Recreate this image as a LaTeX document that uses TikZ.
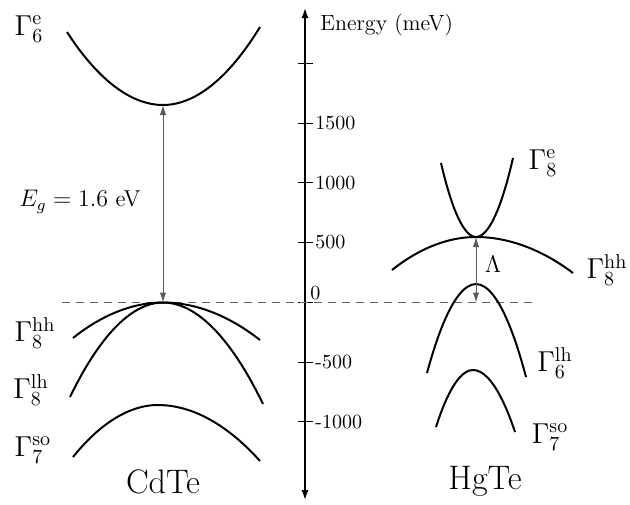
\documentclass[tikz,border=0pt]{standalone}
\usepackage{amsmath}
\usepackage{tikz}
\usetikzlibrary{arrows.meta}

\begin{document}
\begin{tikzpicture}[
  x=0.5pt, y=-0.5pt,
  >={Latex[length=5pt,width=3.2pt]},
  band/.style={line width=1pt, draw=black},
  gap/.style={<->, line width=0.5pt, draw=black!65},
  axis/.style={<->, line width=0.8pt, >={Latex[length=5pt,width=3.6pt]}},
  zero/.style={dashed, line width=0.5pt, draw=black!60, dash pattern=on 4pt off 3pt},
  lvl/.style={font=\fontsize{14}{16}\selectfont},
  tick/.style={font=\fontsize{10}{12}\selectfont, inner sep=0pt},
  mat/.style={font=\fontsize{17}{20}\selectfont},
]
\useasboundingbox (0,0) rectangle (630,504);

% energy axis
\coordinate (top) at (305,8);
\coordinate (bot) at (305,500);
\draw[axis] (bot) -- (top);
\node[tick, anchor=west, font=\fontsize{11}{13}\selectfont] (elab) at (320,25) {Energy (meV)};
\foreach \y/\lab in {63.3/, 123/1500, 182.6/1000, 242.3/500, 362/-500, 421.6/-1000}{
  \draw[line width=0.5pt] (298,\y) -- (313,\y);
  \node[tick, anchor=west] at (315,\y) {\lab};
}
\draw[line width=0.5pt] (298,302.5) -- (313,302.5);
\node[tick, anchor=south west] (zlab) at (310,300) {0};
\coordinate (zl) at (62,302.5);
\coordinate (zr) at (535,302.5);
\draw[zero] (zl) -- (zr);

% CdTe bands
\coordinate (cbm) at (163,105);
\coordinate (vbm) at (163,302.5);
\draw[band] (67,32) parabola bend (cbm) (260,27);
\draw[band] (73,338) parabola bend (vbm) (260,340);
\draw[band] (70,397) parabola bend (vbm) (263,404);
\draw[band] (73,457) parabola bend (158,405) (260,461);
\draw[gap] (vbm) -- (cbm);
\node[lvl] (g6e) at (29,29) {$\Gamma_6^{\mathrm{e}}$};
\node[font=\fontsize{11.5}{14}\selectfont] (eg) at (80,202) {$E_g = 1.6$ eV};
\node[lvl] (g8hh) at (35,333) {$\Gamma_8^{\mathrm{hh}}$};
\node[lvl] (g8lh) at (31,390) {$\Gamma_8^{\mathrm{lh}}$};
\node[lvl] (g7so) at (33,450) {$\Gamma_7^{\mathrm{so}}$};
\node[mat] (cdte) at (163,482) {CdTe};

% HgTe bands
\coordinate (node8) at (476,237);
\coordinate (top6) at (476,302.5);
\draw[band] (441,163) parabola bend (node8) (513,158);
\draw[band] (392,270) parabola bend (node8) (573,273);
\draw[band] (427,373) parabola bend (476,284) (526,377);
\draw[band] (436,427) parabola bend (473,370) (515,432);
\draw[gap] (top6) -- (node8);
\node[font=\fontsize{12}{14}\selectfont] (lam) at (493,264) {$\Lambda$};
\node[lvl] (h8e) at (543,163) {$\Gamma_8^{\mathrm{e}}$};
\node[lvl] (h8hh) at (607,270) {$\Gamma_8^{\mathrm{hh}}$};
\node[lvl] (h6lh) at (555,363) {$\Gamma_6^{\mathrm{lh}}$};
\node[lvl] (h7so) at (550,437) {$\Gamma_7^{\mathrm{so}}$};
\node[mat] (hgte) at (485,481) {HgTe};
\end{tikzpicture}
\end{document}
